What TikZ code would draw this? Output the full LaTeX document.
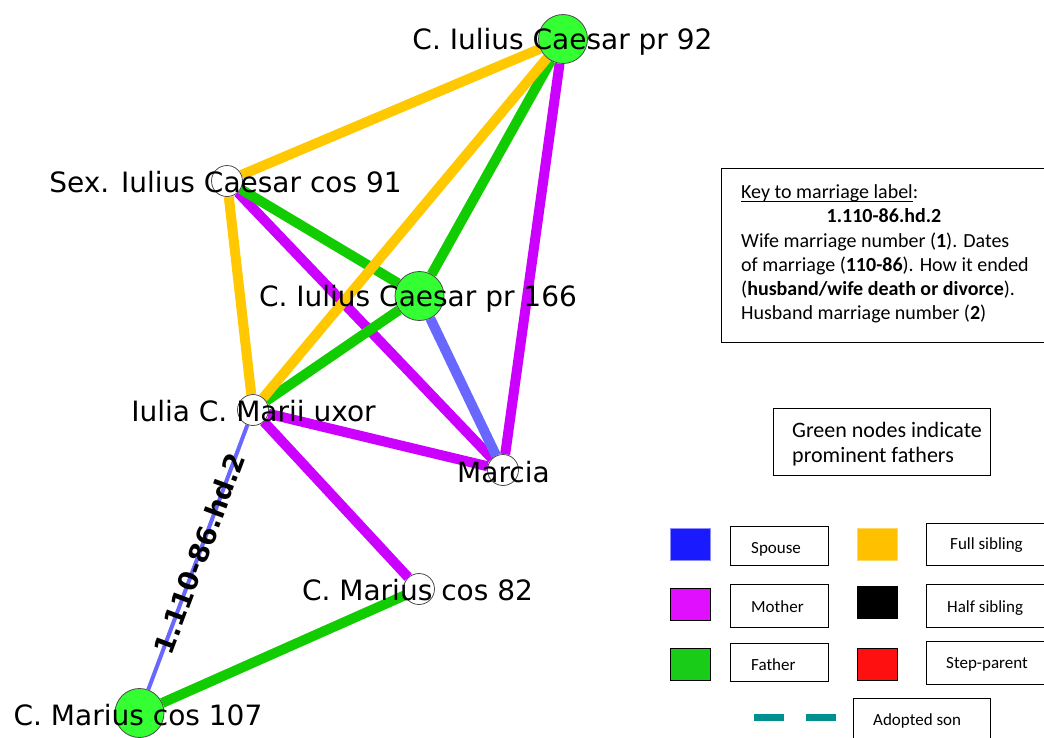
\documentclass[tikz,border=0pt]{standalone}
\usepackage{fontspec}
\usetikzlibrary{backgrounds}
\newfontfamily\netfont{DejaVu Sans}
\newfontfamily\keyfont{Carlito}
% underline set a little below the baseline
\newcommand\keyul[1]{\setbox0\hbox{#1}\rlap{\rule[-3.5pt]{\wd0}{1pt}}\box0}

\definecolor{sibyellow}{HTML}{FFC800}
\definecolor{fathergreen}{HTML}{11CC00}
\definecolor{mothermag}{HTML}{CC00FF}
\definecolor{spouseblue}{HTML}{6868FF}
\definecolor{nodegreen}{HTML}{33FF33}
\definecolor{swblue}{HTML}{1A1AFF}
\definecolor{swblueedge}{HTML}{8C8CFF}
\definecolor{swyellow}{HTML}{FFC000}
\definecolor{swyellowedge}{HTML}{FFD860}
\definecolor{swmag}{HTML}{E010FF}
\definecolor{swgreen}{HTML}{18CC18}
\definecolor{swred}{HTML}{FF1010}
\definecolor{adoptteal}{HTML}{009090}

\tikzset{
  person/.style={circle, draw=black!70, line width=0.8pt, inner sep=0pt, fill=white, minimum size=31pt},
  prominent/.style={person, fill=nodegreen, minimum size=49pt},
  personname/.style={font=\netfont\fontsize{28}{34}\selectfont, anchor=base, inner sep=0pt},
  tie/.style={line width=10pt},
  fullsib/.style={tie, draw=sibyellow},
  fatherof/.style={tie, draw=fathergreen},
  motherof/.style={tie, draw=mothermag},
  spouseof/.style={tie, draw=spouseblue},
  marriage/.style={line width=4pt, draw=spouseblue},
  marriagelabel/.style={font=\netfont\bfseries\fontsize{27}{32}\selectfont, inner sep=0pt, sloped},
  keytext/.style={font=\keyfont\fontsize{20}{24}\selectfont, anchor=base west, inner sep=0pt},
  notetext/.style={font=\keyfont\fontsize{22}{26}\selectfont, anchor=base west, inner sep=0pt},
  legtext/.style={font=\keyfont\fontsize{17}{20}\selectfont, anchor=base west, inner sep=0pt},
  panel/.style={draw=black, line width=1.2pt, anchor=north west, inner sep=0pt},
  swatch/.style={draw=black, line width=1.3pt, anchor=north west, inner sep=0pt, minimum width=40pt, minimum height=32pt},
  adopted/.style={draw=adoptteal, line width=7pt, dash pattern=on 30pt off 22pt}
}

\begin{document}
\begin{tikzpicture}[x=1pt, y=-1pt]
\useasboundingbox (0,0) rectangle (1044,737);
\clip (0,0) rectangle (1044,737);

% people
\node[prominent] (pr92)  at (563,39)    {};
\node[person]    (sex91) at (227,181)   {};
\node[prominent] (pr166) at (419.5,296) {};
\node[person]    (iulia) at (253,410)   {};
\node[person]    (marcia) at (503,470)  {};
\node[person]    (mar82) at (419,589)   {};
\node[prominent] (mar107) at (139.5,713) {};

% family ties, behind the people
\begin{scope}[on background layer]
  \draw[motherof] (pr92) -- (marcia);
  \draw[motherof] (sex91) -- (marcia);
  \draw[motherof] (iulia) -- (marcia);
  \draw[motherof] (iulia) -- (mar82);
  \draw[spouseof] (pr166) -- (marcia);
  \draw[fatherof] (pr92) -- (pr166);
  \draw[fatherof] (sex91) -- (pr166);
  \draw[fatherof] (pr166) -- (iulia);
  \draw[fatherof] (mar82) -- (mar107);
  \draw[fullsib] (pr92) -- (sex91);
  \draw[fullsib] (pr92) -- (iulia);
  \draw[fullsib] (sex91) -- (iulia);
  \draw[marriage] (mar107) -- node[marriagelabel, pos=0.515] (mlabel) {1.110-86.hd.2} (iulia);
\end{scope}

% names
\node[personname] (pr92-n)   at (562.5,49)  {C. Iulius Caesar pr 92};
\node[personname] (sex91-n)  at (225.5,192) {Sex. Iulius Caesar cos 91};
\node[personname] (pr166-n)  at (418,306)   {C. Iulius Caesar pr 166};
\node[personname] (iulia-n)  at (253.5,421) {Iulia C. Marii uxor};
\node[personname] (marcia-n) at (503.5,482) {Marcia};
\node[personname] (mar82-n)  at (417.5,600) {C. Marius cos 82};
\node[personname] (mar107-n) at (138,725)   {C. Marius cos 107};

% key to the marriage label
\node[panel, minimum width=340pt, minimum height=174pt] (keybox) at (721,168) {};
\node[keytext] (key1) at (741,198) {\keyul{Key to marriage label}:};
\node[keytext, anchor=base] (key2) at (884,222) {\textbf{1.110-86.hd.2}};
\node[keytext] (key3) at (741,247) {Wife marriage number (\textbf{1}). Dates};
\node[keytext] (key4) at (741,271) {of marriage (\textbf{110-86}). How it ended};
\node[keytext] (key5) at (741,295) {(\textbf{husband/wife death or divorce}).};
\node[keytext] (key6) at (741,319) {Husband marriage number (\textbf{2})};

% note on node colours
\node[panel, minimum width=217pt, minimum height=67pt] (notebox) at (773,408) {};
\node[notetext] (note1) at (792,437) {Green nodes indicate};
\node[notetext] (note2) at (792,462) {prominent fathers};

% legend of tie colours
\node[swatch, fill=swblue, draw=swblueedge] (sw-spouse) at (670,528) {};
\node[panel, minimum width=98pt, minimum height=39pt] (lb-spouse) at (730,526) {};
\node[legtext] (tx-spouse) at (751,553) {Spouse};

\node[swatch, fill=swyellow, draw=swyellowedge] (sw-full) at (857,528) {};
\node[panel, minimum width=140pt, minimum height=42pt] (lb-full) at (926,523) {};
\node[legtext] (tx-full) at (950,549) {Full sibling};

\node[swatch, fill=swmag] (sw-mother) at (670,588) {};
\node[panel, minimum width=98pt, minimum height=43pt] (lb-mother) at (730,584) {};
\node[legtext] (tx-mother) at (751,612) {Mother};

\node[swatch, fill=black] (sw-half) at (857,586) {};
\node[panel, minimum width=140pt, minimum height=43pt] (lb-half) at (926,584) {};
\node[legtext] (tx-half) at (947,612) {Half sibling};

\node[swatch, fill=swgreen] (sw-father) at (670,648) {};
\node[panel, minimum width=98pt, minimum height=38pt] (lb-father) at (730,643) {};
\node[legtext] (tx-father) at (751,670) {Father};

\node[swatch, fill=swred] (sw-step) at (857,648) {};
\node[panel, minimum width=140pt, minimum height=43pt] (lb-step) at (926,641) {};
\node[legtext] (tx-step) at (946,668) {Step-parent};

\coordinate (adA) at (754,717.5);
\coordinate (adB) at (836,717.5);
\draw[adopted] (adA) -- (adB);
\node[panel, minimum width=137pt, minimum height=50pt] (lb-adopt) at (853,698) {};
\node[legtext] (tx-adopt) at (873,725) {Adopted son};
\end{tikzpicture}
\end{document}
